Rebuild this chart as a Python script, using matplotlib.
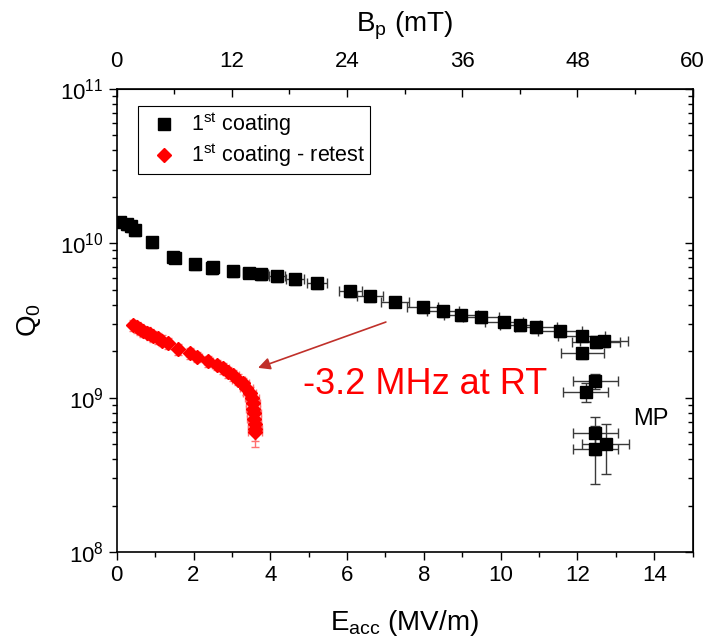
import matplotlib
matplotlib.use("Agg")
from matplotlib import pyplot as plt
from matplotlib.ticker import MultipleLocator, FixedLocator, LogLocator, NullFormatter
import numpy as np

plt.rcParams['font.family'] = ['Liberation Sans', 'DejaVu Sans']
plt.rcParams['mathtext.fontset'] = 'custom'
plt.rcParams['mathtext.rm'] = 'Liberation Sans'
plt.rcParams['mathtext.it'] = 'Liberation Sans:italic'

# 1st coating (black squares)
e_first = [0.09, 0.26, 0.37, 0.48, 0.91, 1.47, 1.52, 2.05, 2.47, 2.52, 3.04, 3.45,
           3.75, 4.18, 4.65, 5.22, 6.08, 6.60, 7.25, 7.97, 8.49, 8.97, 9.49, 10.09,
           10.50, 10.91, 11.54, 12.11, 12.48, 12.69, 12.13, 12.46, 12.21, 12.46, 12.46, 12.74]
q_first = [1.38e10, 1.33e10, 1.29e10, 1.22e10, 1.015e10, 8.11e9, 8.06e9, 7.34e9, 6.88e9,
           6.99e9, 6.62e9, 6.45e9, 6.32e9, 6.14e9, 5.87e9, 5.50e9, 4.89e9, 4.55e9, 4.18e9,
           3.85e9, 3.62e9, 3.44e9, 3.31e9, 3.10e9, 2.95e9, 2.86e9, 2.70e9, 2.52e9, 2.28e9,
           2.33e9, 1.94e9, 1.28e9, 1.09e9, 5.87e8, 4.67e8, 4.98e8]
ex_first = [0.0, 0.01, 0.02, 0.02, 0.05, 0.07, 0.08, 0.10, 0.12, 0.13, 0.15, 0.17, 0.19,
            0.21, 0.23, 0.26, 0.30, 0.33, 0.36, 0.40, 0.42, 0.45, 0.47, 0.50, 0.53, 0.55,
            0.58, 0.61, 0.62, 0.63, 0.57, 0.59, 0.59, 0.59, 0.59, 0.61]
eq_first = [1.1e9, 1.06e9, 1.03e9, 0.98e9, 0.81e9, 0.65e9, 0.64e9, 0.59e9, 0.55e9, 0.56e9,
            0.53e9, 0.52e9, 0.51e9, 0.49e9, 0.47e9, 0.44e9, 0.39e9, 0.36e9, 0.33e9, 0.31e9,
            0.29e9, 0.28e9, 0.26e9, 0.25e9, 0.24e9, 0.23e9, 0.22e9, 0.2e9, 0.18e9, 0.19e9,
            0.16e9, 0.14e9, 0.15e9, 1.6e8, 1.9e8, 1.8e8]

# 1st coating - retest (red diamonds)
e_retest = [0.43, 0.52, 0.61, 0.69, 0.78, 0.87, 0.95, 1.08, 1.17, 1.34, 1.60, 1.91, 2.10,
            2.39, 2.60, 2.78, 2.91, 3.04, 3.17, 3.28, 3.38, 3.47, 3.52, 3.54, 3.56, 3.58,
            3.58, 3.59, 3.60, 3.60]
q_retest = [2.95e9, 2.85e9, 2.77e9, 2.70e9, 2.64e9, 2.58e9, 2.51e9, 2.42e9, 2.34e9, 2.25e9,
            2.07e9, 1.94e9, 1.84e9, 1.73e9, 1.63e9, 1.55e9, 1.47e9, 1.40e9, 1.31e9, 1.24e9,
            1.15e9, 1.07e9, 0.99e9, 0.92e9, 0.85e9, 0.79e9, 0.73e9, 0.68e9, 0.63e9, 0.60e9]
ex_retest = [0.02, 0.03, 0.03, 0.03, 0.04, 0.04, 0.05, 0.05, 0.06, 0.07, 0.08, 0.10, 0.11,
             0.12, 0.13, 0.14, 0.15, 0.15, 0.16, 0.16, 0.17, 0.17, 0.18, 0.18, 0.18, 0.18,
             0.18, 0.18, 0.18, 0.18]
eq_retest = [0.24e9, 0.23e9, 0.22e9, 0.22e9, 0.21e9, 0.21e9, 0.2e9, 0.19e9, 0.19e9, 0.18e9,
             0.17e9, 0.16e9, 0.15e9, 0.14e9, 0.13e9, 0.13e9, 0.12e9, 0.12e9, 0.11e9, 0.11e9,
             0.11e9, 0.1e9, 0.1e9, 0.1e9, 0.1e9, 0.1e9, 0.1e9, 0.11e9, 0.11e9, 0.12e9]

bp_ticks = [0, 12, 24, 36, 48, 60]

fig = plt.figure(figsize=(7.09, 6.42), dpi=100)
ax = fig.add_axes([0.1646, 0.1402, 0.8124, 0.7212])

ax.errorbar(e_retest, q_retest, xerr=ex_retest, yerr=eq_retest, fmt='none',
            ecolor='#ff7070', elinewidth=1, capsize=3, zorder=2)
ax.plot(e_retest, q_retest, 'D', color='red', ms=7.5, mec='red',
        label='1$^{\\mathrm{st}}$ coating - retest', zorder=3)
ax.errorbar(e_first, q_first, xerr=ex_first, yerr=eq_first, fmt='none',
            ecolor='#3a3a3a', elinewidth=1, capsize=3.5, zorder=2)
ax.plot(e_first, q_first, 's', color='black', ms=8,
        label='1$^{\\mathrm{st}}$ coating', zorder=3)

ax.set_yscale('log')
ax.set_xlim(0, 15)
ax.set_ylim(1e8, 1e11)
ax.xaxis.set_major_locator(MultipleLocator(2))
ax.xaxis.set_minor_locator(MultipleLocator(1))
ax.yaxis.set_major_locator(LogLocator(base=10, numticks=10))
ax.yaxis.set_minor_locator(LogLocator(base=10, subs=np.arange(2, 10), numticks=20))
ax.yaxis.set_minor_formatter(NullFormatter())
ax.tick_params(axis='both', which='major', direction='out', length=6, width=1,
               labelsize=16, top=False, right=False)
ax.tick_params(axis='both', which='minor', direction='out', length=3.5, width=1,
               top=False, right=False)
for s in ax.spines.values():
    s.set_linewidth(1.2)

ax.set_xlabel('E$_{\\mathrm{acc}}$ (MV/m)', fontsize=20, labelpad=16)
ax.set_ylabel('Q$_0$', fontsize=20, labelpad=12)

top = ax.secondary_xaxis('top', functions=(lambda e: np.asarray(e) * 4.0,
                                           lambda b: np.asarray(b) / 4.0))
top.xaxis.set_major_locator(FixedLocator(bp_ticks))
top.xaxis.set_minor_locator(MultipleLocator(6))
top.tick_params(which='major', direction='in', length=6, width=1, labelsize=16, pad=12)
top.tick_params(which='minor', direction='in', length=3.5, width=1)
top.set_xlabel('B$_{\\mathrm{p}}$ (mT)', fontsize=20, labelpad=14)

right = ax.secondary_yaxis('right', functions=(lambda q: q, lambda q: q))
right.set_yscale('log')
right.yaxis.set_major_locator(LogLocator(base=10, numticks=10))
right.yaxis.set_minor_locator(LogLocator(base=10, subs=np.arange(2, 10), numticks=20))
right.tick_params(which='major', direction='in', length=6, width=1, labelright=False)
right.tick_params(which='minor', direction='in', length=3.5, width=1)
right.yaxis.set_minor_formatter(NullFormatter())

handles, labels = ax.get_legend_handles_labels()
leg = ax.legend(handles[::-1], labels[::-1], loc='upper left',
                bbox_to_anchor=(0.037, 0.963), borderaxespad=0, fontsize=15.5,
                fancybox=False, edgecolor='black', framealpha=1,
                handletextpad=0.25, borderpad=0.2, labelspacing=0.15, handlelength=2.0)
leg.get_frame().set_linewidth(0.8)

ax.annotate('', xy=(3.68, 1.56e9), xytext=(7.01, 3.09e9),
            arrowprops=dict(arrowstyle='-|>', color='#c0302a', lw=1.2,
                            mutation_scale=18, shrinkA=0, shrinkB=0))
ax.text(4.85, 1.21e9, '-3.2 MHz at RT', color='red', fontsize=26,
        ha='left', va='center')
ax.text(13.45, 7.3e8, 'MP', color='black', fontsize=17, ha='left', va='center')

fig.savefig('out.png', dpi=100)
